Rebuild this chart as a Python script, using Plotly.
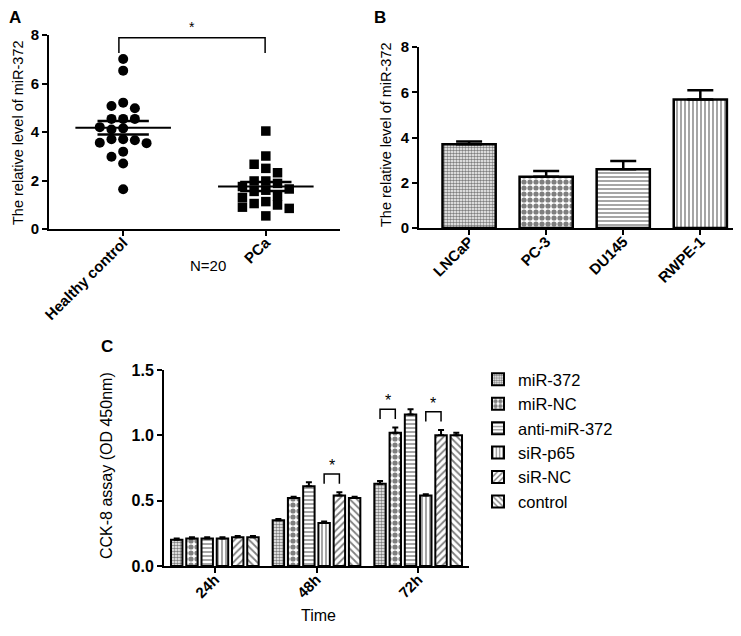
import numpy as np
import plotly.graph_objects as go

# ---------------- data ----------------
# Panel A: relative miR-372 level (N=20 per group)
hc_values = [7.01, 6.53, 5.21, 5.07, 4.98, 4.54, 4.54, 4.54, 4.20, 4.15,
             4.10, 3.70, 3.70, 3.66, 3.56, 3.54, 3.19, 2.98, 2.70, 1.64]
pca_values = [4.04, 3.01, 2.67, 2.50, 2.32, 1.98, 1.98, 1.88, 1.75, 1.65,
              1.60, 1.55, 1.35, 1.30, 1.13, 1.05, 0.99, 0.90, 0.85, 0.54]
groups_a = ["Healthy control", "PCa"]

# Panel B: cell lines
cell_lines = ["LNCaP", "PC-3", "DU145", "RWPE-1"]
cell_means = [3.70, 2.26, 2.60, 5.68]
cell_errs = [0.12, 0.26, 0.36, 0.41]

# Panel C: CCK-8 assay
time_points = ["24h", "48h", "72h"]
series_names = ["miR-372", "miR-NC", "anti-miR-372", "siR-p65", "siR-NC", "control"]
mir372_vals = [0.20, 0.35, 0.63]
mir372_errs = [0.01, 0.01, 0.02]
mirnc_vals = [0.21, 0.52, 1.02]
mirnc_errs = [0.01, 0.01, 0.04]
anti_vals = [0.21, 0.61, 1.16]
anti_errs = [0.01, 0.03, 0.04]
sirp65_vals = [0.21, 0.33, 0.54]
sirp65_errs = [0.01, 0.01, 0.01]
sirnc_vals = [0.22, 0.54, 1.00]
sirnc_errs = [0.01, 0.025, 0.04]
control_vals = [0.22, 0.52, 1.00]
control_errs = [0.01, 0.01, 0.02]

# significance comparisons (time index, series i, series j)
sig_pairs = [(1, 3, 4), (2, 0, 1), (2, 3, 4)]

# ---------------- page geometry ----------------
# the browser's default 8px body margin offsets the figure; work in window pixels
PAGE_OFF = 8
FIG_W, FIG_H = 741 - PAGE_OFF, 636 - PAGE_OFF


def X(px):
    return (px - PAGE_OFF) / FIG_W


def Y(py):
    return 1 - (py - PAGE_OFF) / FIG_H


# ---------------- styles ----------------
FONT = "Arial, Liberation Sans, Helvetica, sans-serif"
patterns = [
    dict(shape=".", size=3, solidity=0.55),
    dict(shape=".", size=6, solidity=0.6),
    dict(shape="-", size=4, solidity=0.35),
    dict(shape="|", size=4, solidity=0.35),
    dict(shape="/", size=5, solidity=0.35),
    dict(shape="\\", size=5, solidity=0.35),
]

fig = go.Figure()


def swarm_offsets(vals, ppu, col_units, min_px=8.5):
    """Greedy column beeswarm: place each point in nearest free column."""
    order = np.argsort(vals)[::-1]
    placed = []
    offs = np.zeros(len(vals))
    for idx in order:
        v = vals[idx]
        for k in [0, -1, 1, -2, 2, -3, 3, -4, 4]:
            ok = all(not (k2 == k and abs(v - v2) * ppu < min_px) for k2, v2 in placed)
            if ok:
                placed.append((k, v))
                offs[idx] = k * col_units
                break
    return offs


ppu_a = 24.25  # pixels per unit on panel A's y axis
col_a = 0.082  # one marker column in category units
for gi, (vals, sym) in enumerate([(hc_values, "circle"), (pca_values, "square")]):
    vals = np.array(vals)
    offs = swarm_offsets(vals, ppu_a, col_a)
    fig.add_trace(go.Scatter(
        x=gi + offs, y=vals, mode="markers", showlegend=False,
        marker=dict(symbol=sym, size=10 if sym == "circle" else 9.5, color="black",
                    line=dict(width=0)),
        xaxis="x", yaxis="y"))
    m = vals.mean()
    sem = vals.std(ddof=1) / np.sqrt(len(vals))
    fig.add_trace(go.Scatter(x=[gi - 0.335, gi + 0.335], y=[m, m], mode="lines",
                             line=dict(color="black", width=2), showlegend=False,
                             xaxis="x", yaxis="y"))
    for s in (m - sem, m + sem):
        fig.add_trace(go.Scatter(x=[gi - 0.18, gi + 0.18], y=[s, s], mode="lines",
                                 line=dict(color="black", width=2.5), showlegend=False,
                                 xaxis="x", yaxis="y"))

# bracket panel A
fig.add_trace(go.Scatter(x=[-0.03, -0.03, 0.995, 0.995], y=[7.26, 7.89, 7.89, 7.26],
                         mode="lines", line=dict(color="black", width=1.5),
                         showlegend=False, xaxis="x", yaxis="y", cliponaxis=False))

# Panel B bars
fig.add_trace(go.Bar(
    x=list(range(len(cell_lines))), y=cell_means, width=0.69, showlegend=False,
    marker=dict(color="white", line=dict(color="black", width=2.5),
                pattern=dict(shape=[p["shape"] for p in patterns[:4]],
                             size=[p["size"] for p in patterns[:4]],
                             solidity=[p["solidity"] for p in patterns[:4]],
                             fgcolor="black", bgcolor="white")),
    error_y=dict(type="data", array=cell_errs, arrayminus=[0] * 4, symmetric=False,
                 color="black", thickness=2.5, width=13),
    xaxis="x2", yaxis="y2"))

# Panel C bars
c_vals = [mir372_vals, mirnc_vals, anti_vals, sirp65_vals, sirnc_vals, control_vals]
c_errs = [mir372_errs, mirnc_errs, anti_errs, sirp65_errs, sirnc_errs, control_errs]
for name, vals, errs, pat in zip(series_names, c_vals, c_errs, patterns):
    fig.add_trace(go.Bar(
        x=list(range(len(time_points))), y=vals, name=name,
        marker=dict(color="white", line=dict(color="black", width=2),
                    pattern=dict(fgcolor="black", bgcolor="white", **pat)),
        error_y=dict(type="data", array=errs, arrayminus=[0] * 3, symmetric=False,
                     color="black", thickness=2, width=3),
        xaxis="x3", yaxis="y3"))

bargap = 0.1
n_series = len(series_names)
slot = (1 - bargap) / n_series


def bar_center(t, i):
    return t + (i - (n_series - 1) / 2) * slot


annotations = []
for t, i, j in sig_pairs:
    top_i = c_vals[i][t] + c_errs[i][t]
    top_j = c_vals[j][t] + c_errs[j][t]
    bottom = max(top_i, top_j) + 0.065
    top = bottom + 0.075
    x1, x2 = bar_center(t, i), bar_center(t, j)
    fig.add_trace(go.Scatter(x=[x1, x1, x2, x2], y=[bottom, top, top, bottom],
                             mode="lines", line=dict(color="black", width=1.5),
                             showlegend=False, xaxis="x3", yaxis="y3", cliponaxis=False))
    annotations.append(dict(x=(x1 + x2) / 2, y=top, xref="x3", yref="y3", text="*",
                            showarrow=False, yanchor="bottom", yshift=-2,
                            font=dict(size=16, color="black", family=FONT)))

annotations.append(dict(x=0.4825, y=7.89, xref="x", yref="y", text="*", showarrow=False,
                        yanchor="bottom", yshift=1, font=dict(size=14, color="black", family=FONT)))

# panel letters and free text
for txt, px, py in [("A", 15, 17), ("B", 380, 17), ("C", 107, 346)]:
    annotations.append(dict(x=X(px), y=Y(py), xref="paper", yref="paper", text=f"<b>{txt}</b>",
                            showarrow=False, xanchor="center", yanchor="middle",
                            font=dict(size=17, color="black", family=FONT)))
annotations.append(dict(x=X(188), y=Y(265), xref="paper", yref="paper", text="N=20",
                        showarrow=False, font=dict(size=15, color="black", family=FONT)))
annotations.append(dict(x=X(318), y=Y(626), xref="paper", yref="paper", text="Time",
                        showarrow=False, font=dict(size=16, color="black", family=FONT)))
for txt, px, py, fs in [("The relative level of miR-372", 18, 133, 14.5),
                        ("The relative level of miR-372", 386, 135, 14.5),
                        ("CCK-8 assay (OD 450nm)", 107, 466, 16)]:
    annotations.append(dict(x=X(px), y=Y(py), xref="paper", yref="paper", text=txt,
                            textangle=-90, showarrow=False, xanchor="center", yanchor="middle",
                            font=dict(size=fs, color="black", family=FONT)))

line_common = dict(showline=True, linecolor="black", linewidth=2, ticks="outside",
                   tickcolor="black", tickwidth=2, ticklen=5, showgrid=False, zeroline=False,
                   automargin=False)


def tf(size):
    return dict(family=FONT, size=size, color="black")


def bold(labels):
    return [f"<b>{s}</b>" for s in labels]


fig.update_layout(
    width=FIG_W, height=FIG_H, margin=dict(l=0, r=0, t=0, b=0, autoexpand=False),
    paper_bgcolor="white", plot_bgcolor="white",
    font=dict(family=FONT, color="black"),
    barmode="group", bargap=bargap, bargroupgap=0.25,
    xaxis=dict(domain=[X(49), X(340)], range=[-0.52, 1.52], tickvals=[0, 1],
               ticktext=bold(groups_a), tickangle=-45, anchor="y", ticklabelstandoff=-8,
               tickfont=tf(15), **line_common),
    yaxis=dict(domain=[Y(229), Y(35)], range=[0, 8], tickvals=[0, 2, 4, 6, 8],
               ticktext=bold(["0", "2", "4", "6", "8"]), anchor="x", tickfont=tf(15), **line_common),
    xaxis2=dict(domain=[X(419), X(735)], range=[-0.65, 3.45],
                tickvals=list(range(len(cell_lines))), ticklabelstandoff=-8,
                ticktext=bold(cell_lines), tickangle=-45, anchor="y2", tickfont=tf(15), **line_common),
    yaxis2=dict(domain=[Y(228), Y(47)], range=[0, 8], tickvals=[0, 2, 4, 6, 8],
                ticktext=bold(["0", "2", "4", "6", "8"]), anchor="x2", tickfont=tf(15), **line_common),
    xaxis3=dict(domain=[X(164), X(469)], range=[-0.5, 2.5],
                tickvals=list(range(len(time_points))), ticklabelstandoff=-8,
                ticktext=bold(time_points), tickangle=-45, anchor="y3", tickfont=tf(15), **line_common),
    yaxis3=dict(domain=[Y(566), Y(370)], range=[0, 1.5],
                tickvals=[0, 0.5, 1.0, 1.5], ticktext=bold(["0.0", "0.5", "1.0", "1.5"]),
                anchor="x3", tickfont=tf(16), **line_common),
    legend=dict(x=X(478), y=Y(362), xanchor="left", yanchor="top",
                font=dict(family=FONT, size=16.5, color="black"), tracegroupgap=0,
                bgcolor="rgba(0,0,0,0)", itemwidth=30),
    annotations=annotations,
    showlegend=True,
)

fig.write_html("out.html")
